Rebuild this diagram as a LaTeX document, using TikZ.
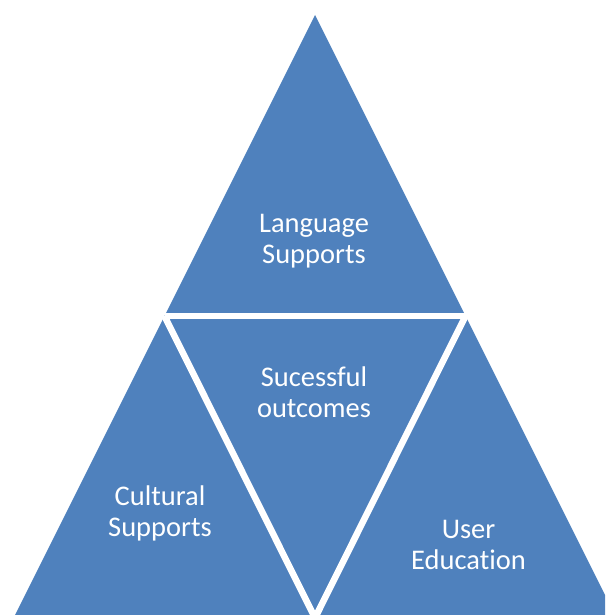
\documentclass[tikz,border=0pt]{standalone}
\usepackage{xcolor}
\usepackage{fontspec}
\setmainfont[Ligatures=NoCommon]{Carlito}
\usepackage{tikz}

\definecolor{pyramidblue}{RGB}{79,129,189}

\begin{document}
\begin{tikzpicture}[x=0.02cm,y=-0.02cm,
    divider/.style={draw=white,line width=0.13cm,line join=miter},
    label/.style={text=white,align=center,inner sep=0pt,
      font=\fontsize{16.2}{17.5}\selectfont}]
  \useasboundingbox (0,0) rectangle (605,615);
  \clip (0,0) rectangle (605,615);
  \coordinate (apex) at (315,15);
  \coordinate (baseL) at (12.5,620);
  \coordinate (baseR) at (617.5,620);
  \coordinate (midL) at (164.5,316);
  \coordinate (midR) at (465.5,316);
  \coordinate (bottom) at (315,618);
  \fill[pyramidblue] (apex) -- (baseL) -- (baseR) -- cycle;
  \draw[divider] (midL) -- (midR);
  \draw[divider] (midL) -- (bottom) -- (midR);
  \node[label] (language) at (314,241.7) {\strut Language\\\strut Supports};
  \node[label] (outcomes) at (314,396) {\strut Sucessful\\\strut outcomes};
  \node[label] (cultural) at (160,515) {\strut Cultural\\\strut Supports};
  \node[label] (education) at (468.5,548) {\strut User\\\strut Education};
\end{tikzpicture}
\end{document}
